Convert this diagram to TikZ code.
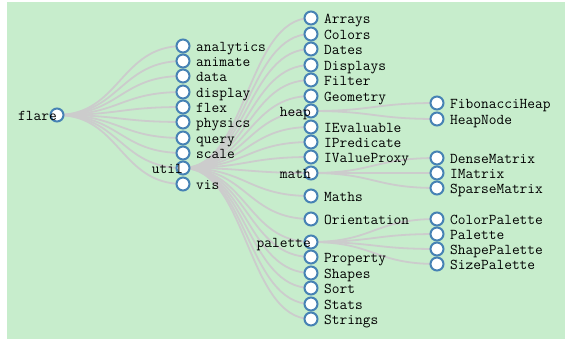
\documentclass[tikz,border=0pt]{standalone}
\pgfdeclarelayer{bg}
\pgfdeclarelayer{lk}
\pgfsetlayers{bg,lk,main}
\definecolor{bggreen}{HTML}{C7EDCC}
\definecolor{steel}{HTML}{4682B4}
\definecolor{linkgray}{HTML}{CCCCCC}
\tikzset{
  dot/.style={circle,draw=steel,fill=white,line width=2pt,minimum size=13pt,inner sep=0pt},
  lbl/.style={font=\fontsize{15}{15}\selectfont\ttfamily,inner sep=0pt,text=black},
  link/.style={draw=linkgray,line width=1.8pt}
}
\newcommand\leafnode[4]{\node[dot] (#1) at (#2,#3) {};
  \node[lbl,anchor=base west] (#1-t) at ([xshift=13pt,yshift=-5pt]#1.center) {#4};}
\newcommand\innode[4]{\node[dot] (#1) at (#2,#3) {};
  \node[lbl,anchor=base east] (#1-t) at ([xshift=0pt,yshift=-5pt]#1.center) {#4};}
\newcommand\lnk[3]{\draw[link] (#1.center) .. controls (#3 |- #1.center) and (#3 |- #2.center) .. (#2.center);}
\begin{document}
\begin{tikzpicture}[x=1pt,y=-1pt]
\useasboundingbox (0,0) rectangle (565,341);
\begin{pgfonlayer}{bg}
\fill[bggreen] (7,2) rectangle (565,339);
\end{pgfonlayer}
\coordinate (m1) at (120,0);
\coordinate (m2) at (247,0);
\coordinate (m3) at (374,0);
% root
\innode{flare}{57}{115}{flare}
% depth 1
\leafnode{analytics}{183}{46}{analytics}
\leafnode{animate}{183}{61}{animate}
\leafnode{data}{183}{76}{data}
\leafnode{display}{183}{92}{display}
\leafnode{flex}{183}{107}{flex}
\leafnode{physics}{183}{122}{physics}
\leafnode{query}{183}{138}{query}
\leafnode{scale}{183}{153}{scale}
\innode{util}{183}{168}{util}
\leafnode{vis}{183}{184}{vis}
% depth 2
\leafnode{Arrays}{311}{18}{Arrays}
\leafnode{Colors}{311}{34}{Colors}
\leafnode{Dates}{311}{49}{Dates}
\leafnode{Displays}{311}{65}{Displays}
\leafnode{Filter}{311}{80}{Filter}
\leafnode{Geometry}{311}{96}{Geometry}
\innode{heap}{311}{111}{heap}
\leafnode{IEvaluable}{311}{127}{IEvaluable}
\leafnode{IPredicate}{311}{142}{IPredicate}
\leafnode{IValueProxy}{311}{157}{IValueProxy}
\innode{math}{311}{173}{math}
\leafnode{Maths}{311}{196}{Maths}
\leafnode{Orientation}{311}{219}{Orientation}
\innode{palette}{311}{242}{palette}
\leafnode{Property}{311}{257}{Property}
\leafnode{Shapes}{311}{273}{Shapes}
\leafnode{Sort}{311}{288}{Sort}
\leafnode{Stats}{311}{304}{Stats}
\leafnode{Strings}{311}{319}{Strings}
% depth 3
\leafnode{FibonacciHeap}{437}{103}{FibonacciHeap}
\leafnode{HeapNode}{437}{119}{HeapNode}
\leafnode{DenseMatrix}{437}{158}{DenseMatrix}
\leafnode{IMatrix}{437}{173}{IMatrix}
\leafnode{SparseMatrix}{437}{188}{SparseMatrix}
\leafnode{ColorPalette}{437}{219}{ColorPalette}
\leafnode{Palette}{437}{234}{Palette}
\leafnode{ShapePalette}{437}{249}{ShapePalette}
\leafnode{SizePalette}{437}{264}{SizePalette}
\begin{pgfonlayer}{lk}
\foreach \c in {analytics,animate,data,display,flex,physics,query,scale,util,vis}
  {\lnk{flare}{\c}{m1}}
\foreach \c in {Arrays,Colors,Dates,Displays,Filter,Geometry,heap,IEvaluable,IPredicate,IValueProxy,math,Maths,Orientation,palette,Property,Shapes,Sort,Stats,Strings}
  {\lnk{util}{\c}{m2}}
\foreach \c in {FibonacciHeap,HeapNode}
  {\lnk{heap}{\c}{m3}}
\foreach \c in {DenseMatrix,IMatrix,SparseMatrix}
  {\lnk{math}{\c}{m3}}
\foreach \c in {ColorPalette,Palette,ShapePalette,SizePalette}
  {\lnk{palette}{\c}{m3}}
\end{pgfonlayer}
\end{tikzpicture}
\end{document}
